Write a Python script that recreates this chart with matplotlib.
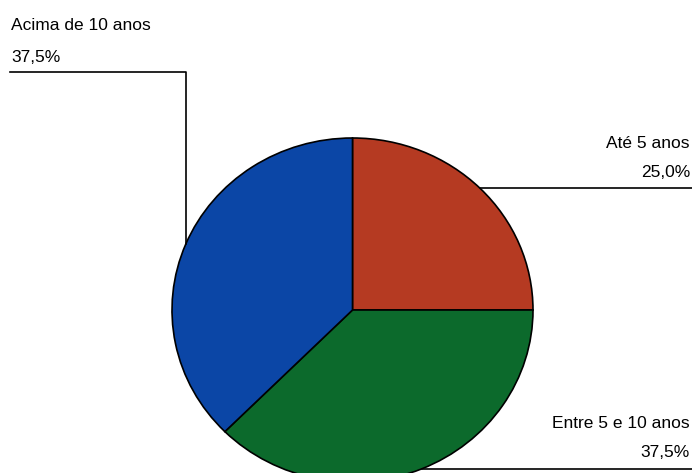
import numpy as np
import matplotlib
matplotlib.use("Agg")
import matplotlib.pyplot as plt

plt.rcParams['font.family'] = ['Liberation Sans', 'DejaVu Sans']

# tempo de serviço
categorias = ['Até 5 anos', 'Entre 5 e 10 anos', 'Acima de 10 anos']
valores = [25.0, 37.5, 37.5]
cores = ['#b53a22', '#0c6a2c', '#0b46a6']

W, H = 692, 473
fig = plt.figure(figsize=(W / 100, H / 100), dpi=100)

# camada de anotações em coordenadas de pixel
ov = fig.add_axes([0, 0, 1, 1])
ov.set_xlim(0, W)
ov.set_ylim(H, 0)
ov.set_axis_off()

# pizza (levemente achatada na vertical)
px0, py0, pw, ph = 172, 138, 361, 344
ax = fig.add_axes([px0 / W, (H - py0 - ph) / H, pw / W, ph / H])
wedges, _ = ax.pie(valores, colors=cores, startangle=90, counterclock=False,
                   radius=1.0, wedgeprops=dict(edgecolor='black', linewidth=1.2))
ax.set_aspect('auto')
ax.set_xlim(-1, 1)
ax.set_ylim(-1, 1)
ax.set_axis_off()
ax.set_zorder(1)
ov.set_zorder(2)
ov.patch.set_alpha(0)

fig.canvas.draw()


def ponto_borda(ang):
    d = ax.transData.transform((np.cos(np.radians(ang)), np.sin(np.radians(ang))))
    return ov.transData.inverted().transform(d)


def fmt(v):
    return f'{v:.1f}%'.replace('.', ',')


lw = 1.2
fs = 12.5
for w, cat, v in zip(wedges, categorias, valores):
    mid = (w.theta1 + w.theta2) / 2
    x, y = ponto_borda(mid)
    if x < W / 2:
        # rótulo à esquerda: sobe e vai para a margem
        y_lin = 72
        ov.plot([x, x, 10], [y, y_lin, y_lin], color='black', lw=lw)
        ov.text(11, y_lin - 15, fmt(v), ha='left', va='center', fontsize=fs)
        ov.text(11, y_lin - 47, cat, ha='left', va='center', fontsize=fs)
    else:
        ov.plot([x, W], [y, y], color='black', lw=lw)
        ov.text(690, y - 16, fmt(v), ha='right', va='center', fontsize=fs)
        ov.text(690, y - 45, cat, ha='right', va='center', fontsize=fs)

fig.savefig('out.png', dpi=100, facecolor='white')
